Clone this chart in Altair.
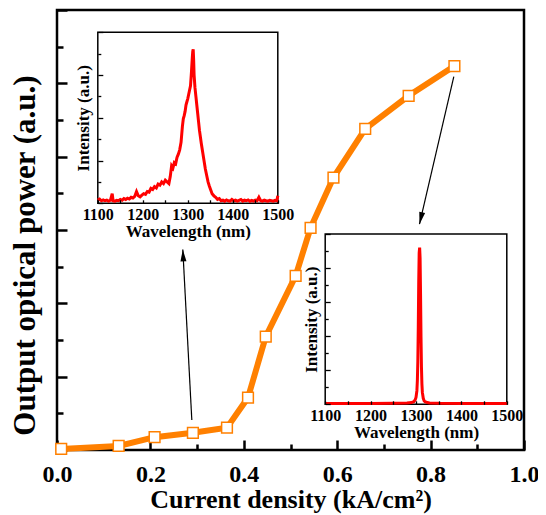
import altair as alt
import pandas as pd

# ---------------- data ----------------
current = [0.009, 0.132, 0.209, 0.291, 0.364, 0.409, 0.447, 0.511, 0.543, 0.592, 0.660, 0.753, 0.851]
power = [0.03, 0.11, 0.35, 0.47, 0.61, 1.43, 3.09, 4.75, 6.06, 7.43, 8.76, 9.66, 10.47]

wl1 = [1100, 1104, 1108, 1112, 1116, 1120, 1124, 1128, 1132, 1134, 1138, 1142, 1146, 1150,
       1154, 1158, 1162, 1166, 1170, 1174, 1178, 1182, 1186, 1190, 1194, 1198, 1202, 1206,
       1210, 1214, 1218, 1222, 1226, 1230, 1234, 1238, 1242, 1246, 1250, 1254, 1258, 1261,
       1264, 1267, 1270, 1273, 1276, 1279, 1282, 1285, 1288, 1290, 1292, 1294, 1296, 1298,
       1300, 1302, 1304, 1306, 1308, 1310, 1311, 1312, 1313, 1314, 1316, 1318, 1320, 1322,
       1324, 1326, 1328, 1330, 1333, 1336, 1339, 1342, 1345, 1348, 1351, 1354, 1358, 1362,
       1366, 1370, 1374, 1378, 1382, 1386, 1390, 1394, 1398, 1402, 1406, 1410, 1414, 1418,
       1422, 1426, 1430, 1434, 1438, 1442, 1446, 1450, 1454, 1458, 1462, 1466, 1470, 1474,
       1478, 1482, 1486, 1490, 1494, 1498, 1500]
int1 = [0.15, 0.20, 0.12, 0.16, 0.12, 0.15, 0.10, 0.14, 0.45, 0.12, 0.10, 0.14, 0.12, 0.18,
        0.14, 0.22, 0.18, 0.24, 0.20, 0.28, 0.25, 0.32, 0.55, 0.35, 0.30, 0.38, 0.45, 0.42,
        0.55, 0.52, 0.70, 0.65, 0.78, 0.72, 0.90, 0.85, 1.00, 0.92, 1.08, 1.00, 0.92, 1.25,
        1.75, 1.65, 1.90, 1.85, 2.15, 2.30, 2.50, 2.85, 3.60, 3.95, 4.10, 4.30, 4.60, 4.75,
        4.90, 5.10, 5.30, 5.50, 6.10, 6.80, 7.10, 7.20, 6.70, 6.00, 5.40, 5.00, 4.60, 4.20,
        3.80, 3.40, 3.10, 2.80, 2.40, 2.00, 1.60, 1.30, 1.00, 0.80, 0.62, 0.45, 0.35, 0.28,
        0.18, 0.22, 0.12, 0.15, 0.10, 0.16, 0.12, 0.10, 0.18, 0.12, 0.15, 0.10, 0.14, 0.18,
        0.10, 0.15, 0.12, 0.16, 0.10, 0.14, 0.10, 0.15, 0.12, 0.28, 0.12, 0.10, 0.15, 0.12,
        0.10, 0.14, 0.12, 0.10, 0.14, 0.12, 0.35]

wl2 = [1100, 1150, 1200, 1250, 1280, 1290, 1295, 1298, 1300, 1302, 1303, 1304, 1305, 1306,
       1307, 1308, 1309, 1310, 1311, 1312, 1313, 1314, 1316, 1318, 1320, 1325, 1330, 1350,
       1400, 1450, 1500]
int2 = [0.05, 0.05, 0.05, 0.06, 0.08, 0.10, 0.15, 0.25, 0.40, 0.80, 1.40, 2.50, 4.50, 7.20,
        8.90, 9.20, 8.60, 6.50, 4.00, 2.20, 1.20, 0.70, 0.35, 0.20, 0.15, 0.10, 0.08, 0.06,
        0.05, 0.05, 0.05]

arrow_x = [0.2887, 0.2694, 0.8497, 0.7762]
arrow_y = [0.818, 5.47, 10.18, 6.16]
arrow_id = ["a", "a", "b", "b"]
head_x = [0.2694, 0.7762]
head_y = [5.47, 6.16]
head_angle = [357, 193]

x_major = [0.0, 0.2, 0.4, 0.6, 0.8, 1.0]
x_minor = [0.1, 0.3, 0.5, 0.7, 0.9]
y_major = [0, 2, 4, 6, 8, 10, 12]
y_minor = [1, 3, 5, 7, 9, 11]

# ---------------- layout ----------------
W, H = 467, 440
FONT = "Liberation Serif"
ORANGE = "#FF8000"

xs = alt.Scale(domain=[0, 1], nice=False, zero=False)
ys = alt.Scale(domain=[0, 12], nice=False)

main_df = pd.DataFrame({"j": current, "p": power})

line = alt.Chart(main_df).mark_line(color=ORANGE, strokeWidth=6).encode(
    x=alt.X("j:Q", scale=xs, axis=alt.Axis(
        orient="bottom", title="Current density (kA/cm²)", values=x_major, format=".1f",
        ticks=False, tickSize=0, domain=False, labelFontSize=24, labelPadding=12,
        titleFontSize=26, titlePadding=0)),
    y=alt.Y("p:Q", scale=ys, axis=alt.Axis(
        orient="left", title="Output optical power (a.u.)", labels=False, ticks=False,
        tickSize=0, domain=False, titleFontSize=31, titlePadding=16, titleY=245)),
)

pts = alt.Chart(main_df).mark_point(
    shape="square", filled=True, fill="white", stroke=ORANGE, strokeWidth=1.5,
    size=115, opacity=1).encode(
    x=alt.X("j:Q", scale=xs, axis=alt.Axis(
        orient="top", offset=-H, values=x_major, labels=False, domain=False,
        tickSize=10, tickWidth=2.5, title=None)),
    y=alt.Y("p:Q", scale=ys, axis=alt.Axis(
        orient="right", offset=-W, values=y_major, labels=False, domain=False,
        tickSize=10, tickWidth=2.5, title=None)),
)

arrow_df = pd.DataFrame({"ax": arrow_x, "ay": arrow_y, "arrow": arrow_id})
arrows = alt.Chart(arrow_df).mark_line(color="black", strokeWidth=1.2).encode(
    x=alt.X("ax:Q", scale=xs, axis=alt.Axis(
        orient="top", offset=-H, values=x_minor, labels=False, domain=False,
        tickSize=6, tickWidth=2.5, title=None)),
    y=alt.Y("ay:Q", scale=ys, axis=alt.Axis(
        orient="right", offset=-W, values=y_minor, labels=False, domain=False,
        tickSize=6, tickWidth=2.5, title=None)),
    detail="arrow:N",
)

head_df = pd.DataFrame({"hx": head_x, "hy": head_y, "ang": head_angle})
heads = alt.Chart(head_df).mark_point(
    shape="M0,0L-0.5,2L0.5,2Z", filled=True, color="black", size=144, opacity=1).encode(
    x=alt.X("hx:Q", scale=xs, axis=None),
    y=alt.Y("hy:Q", scale=ys, axis=None),
    angle=alt.Angle("ang:Q", scale=None),
)

main = alt.layer(line, pts, arrows, heads).resolve_axis(x="independent", y="independent")


def inset(wl, inten, left_x, right_x, top_y, bottom_y, ytop):
    xsc = alt.Scale(domain=[1100, 1500], range=[left_x, right_x], nice=False, zero=False)
    ysc = alt.Scale(domain=[0, ytop], range=[bottom_y, top_y], nice=False)
    fdf = pd.DataFrame({"x0": [1100], "x1": [1500], "y0": [0], "y1": [ytop]})
    frame = alt.Chart(fdf).mark_rect(fill="white", stroke="black", strokeWidth=1.5).encode(
        x=alt.X("x0:Q", scale=xsc, axis=alt.Axis(
            orient="top", offset=-bottom_y, values=list(range(1100, 1501, 50)),
            labels=False, domain=False, tickSize=3.5, tickWidth=1.3, title=None, zindex=1)),
        x2="x1:Q",
        y=alt.Y("y0:Q", scale=ysc, axis=alt.Axis(
            orient="right", offset=-(W - left_x), values=list(range(0, ytop + 1, 2)),
            labels=False, domain=False, tickSize=5, tickWidth=1.3, title=None, zindex=1)),
        y2="y1:Q",
    )
    sdf = pd.DataFrame({"wl": wl, "i": inten})
    spec = alt.Chart(sdf).mark_line(color="#FF0000", strokeWidth=3).encode(
        x=alt.X("wl:Q", scale=xsc, axis=alt.Axis(
            orient="bottom", offset=-(H - bottom_y), values=list(range(1100, 1501, 100)),
            format="d", ticks=False, tickSize=0, domain=False, labelFontSize=16,
            labelPadding=3, title="Wavelength (nm)", titleFontSize=17, titlePadding=1,
            zindex=1)),
        y=alt.Y("i:Q", scale=ysc, axis=alt.Axis(
            orient="left", offset=-left_x, labels=False, ticks=False, tickSize=0,
            domain=False, title="Intensity (a.u.)", titleFontSize=17, titlePadding=5,
            zindex=1)),
    )
    minor = alt.Chart(fdf).mark_rect(opacity=0).encode(
        x=alt.X("x0:Q", scale=xsc, axis=None),
        x2="x1:Q",
        y=alt.Y("y0:Q", scale=ysc, axis=alt.Axis(
            orient="right", offset=-(W - left_x), values=list(range(1, ytop, 2)),
            labels=False, domain=False, tickSize=3, tickWidth=1.3, title=None, zindex=1)),
        y2="y1:Q",
    )
    return alt.layer(frame, spec, minor).resolve_axis(x="independent", y="independent")


inset1 = inset(wl1, int1, 40.8, 220.8, 22.3, 193.3, 8)
inset2 = inset(wl2, int2, 268.2, 449.8, 224.0, 394.3, 10)

chart = alt.layer(main, inset1, inset2).resolve_scale(
    x="independent", y="independent"
).properties(
    width=W, height=H,
    autosize=alt.AutoSizeParams(type="none"),
    padding={"left": 49, "top": 2, "right": 14, "bottom": 65},
).configure_view(
    stroke="black", strokeWidth=2.5
).configure_axis(
    labelFont=FONT, titleFont=FONT, labelFontWeight="bold", titleFontWeight="bold",
    labelColor="black", titleColor="black", tickColor="black", domainColor="black",
    grid=False, labelFlush=False, labelOverlap=False,
)

chart.save("out.html", embed_options={"renderer": "svg", "actions": False})
